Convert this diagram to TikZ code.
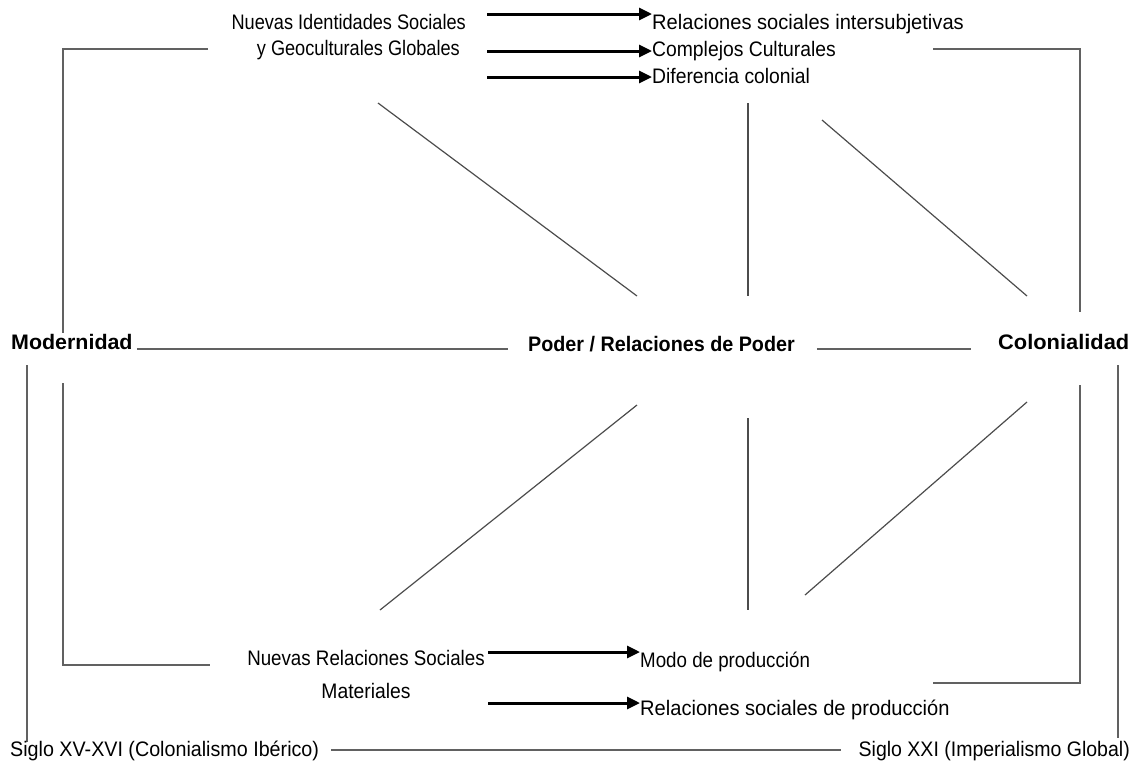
\documentclass[tikz,border=0pt]{standalone}
\usepackage{fontspec}
\usepackage{graphicx}
\setmainfont{Liberation Sans}[FakeStretch=0.92]
\newfontfamily\boldfam{Liberation Sans}
\usetikzlibrary{arrows.meta}
\newcommand{\hsc}[2]{\scalebox{#1}[1]{#2}}
\begin{document}
\begin{tikzpicture}[x=1pt,y=-1pt,
  txt/.style={inner sep=0pt,font=\fontsize{21}{26}\selectfont},
  big/.style={inner sep=0pt,font=\boldfam\bfseries\fontsize{21}{26}\selectfont},
  ln/.style={draw=black!62,line width=1.4pt},
  dg/.style={draw=black!70,line width=1.2pt},
  arr/.style={draw=black,line width=3pt,-{Triangle[length=13pt,width=12pt]}}]
\useasboundingbox (0,0) rectangle (1136,764);
% top texts
\node[txt,anchor=base east] (nis1) at (466,29) {\hsc{0.94}{Nuevas Identidades Sociales}};
\node[txt,anchor=base east] (nis2) at (460,55) {\hsc{0.94}{y Geoculturales Globales}};
\node[txt,anchor=base west] (r1) at (652,29) {\hsc{1.04}{Relaciones sociales intersubjetivas}};
\node[txt,anchor=base west] (r2) at (652,56) {Complejos Culturales};
\node[txt,anchor=base west] (r3) at (652,83) {Diferencia colonial};
\coordinate (a1) at (487,14);
\coordinate (a2) at (487,51);
\coordinate (a3) at (487,77);
\draw[arr] (a1) -- (a1 -| r1.west);
\draw[arr] (a2) -- (a2 -| r2.west);
\draw[arr] (a3) -- (a3 -| r3.west);
% middle row
\node[big,anchor=base west] (mod) at (11,349) {\hsc{1.02}{Modernidad}};
\node[big,anchor=base west] (pod) at (528,351) {\hsc{0.94}{Poder / Relaciones de Poder}};
\node[big,anchor=base west] (col) at (998,349) {\hsc{1.04}{Colonialidad}};
\draw[ln] ([xshift=4pt]mod.base east) -- (508,349);
\draw[ln] ([shift={(22pt,2pt)}]pod.base east) -- ([shift={(-27pt,0pt)}]col.base west);
% brackets
\draw[ln] (208,49) -- (63,49) -- (63,333);
\draw[ln] (933,49) -- (1080,49) -- (1080,312);
\draw[ln] (63,383) -- (63,665) -- (210,665);
\draw[ln] (1080,385) -- (1080,683) -- (933,683);
\draw[ln] (27,365) -- (27,742);
\draw[ln] (1118,365) -- (1118,738);
% diagonals and verticals
\draw[dg] (378,103) -- (637,296);
\draw[dg] (748,103) -- (748,296);
\draw[dg] (822,120) -- (1027,296);
\draw[dg] (380,610) -- (637,405);
\draw[dg] (748,418) -- (748,610);
\draw[dg] (805,595) -- (1027,402);
% bottom texts
\node[txt,anchor=base] (nrs1) at (366,665) {\hsc{0.97}{Nuevas Relaciones Sociales}};
\node[txt,anchor=base] (nrs2) at (366,698) {Materiales};
\node[txt,anchor=base west] (mp) at (640,667) {\hsc{0.97}{Modo de producción}};
\node[txt,anchor=base west] (rsp) at (640,715) {\hsc{1.04}{Relaciones sociales de producción}};
\coordinate (b1) at (488,652);
\coordinate (b2) at (488,703);
\draw[arr] (b1) -- (b1 -| mp.west);
\draw[arr] (b2) -- (b2 -| rsp.west);
\node[txt,anchor=base west] (s1) at (10,756) {\hsc{1.02}{Siglo XV-XVI (Colonialismo Ibérico)}};
\node[txt,anchor=base east] (s2) at (1130,756) {\hsc{1.01}{Siglo XXI (Imperialismo Global)}};
\draw[ln] ([shift={(12pt,6pt)}]s1.base east) -- ([shift={(-18pt,6pt)}]s2.base west);
\end{tikzpicture}
\end{document}
